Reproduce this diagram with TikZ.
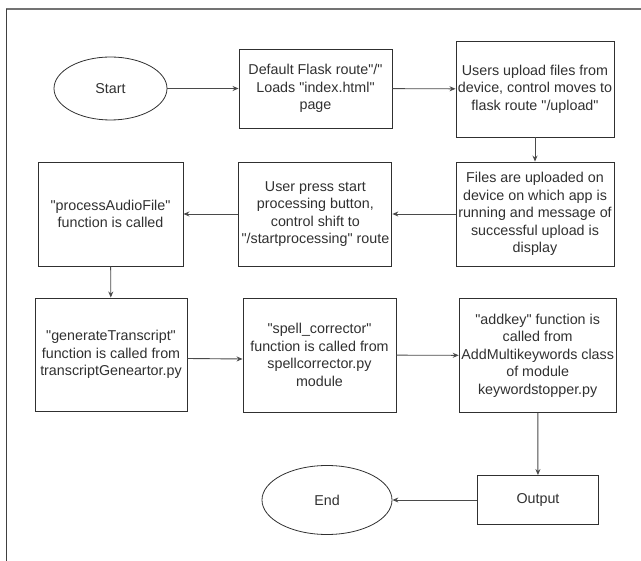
\documentclass[tikz,border=0pt]{standalone}
\usepackage{fontspec}
\setmainfont{Liberation Sans}[Ligatures=TeXOff]
\usetikzlibrary{shapes.geometric,arrows.meta}
\definecolor{ink}{HTML}{303030}
\definecolor{edge}{HTML}{4A4A4A}
\tikzset{
  every node/.style={font=\fontsize{14.3}{17.5}\selectfont, text=ink, align=center, inner sep=0pt},
  procbox/.style={draw=ink, line width=0.9pt, rectangle},
  terminal/.style={draw=ink, line width=0.8pt, ellipse},
  flow/.style={draw=edge, line width=0.9pt, -{Stealth[length=6pt,width=5pt]}},
}
\begin{document}
\begin{tikzpicture}[x=1pt,y=-1pt]
  \useasboundingbox (0,0) rectangle (641,561);
  % frame edges
  \draw[color=black!55, line width=1.8pt] (6,8.7) -- (641,8.7);
  \draw[color=black!75, line width=0.9pt] (6,8.7) -- (6,561);

  % nodes
  \node[terminal, minimum width=113pt, minimum height=63pt] (start) at (110.5,88.5) {Start};
  \node[procbox, minimum width=153pt, minimum height=79pt] (flask) at (315.5,88.5)
    {Default Flask route"/"\\Loads "index.html"\\page};
  \node[procbox, minimum width=158pt, minimum height=96pt] (upload) at (535,89)
    {Users upload files from\\device, control moves to\\flask route "/upload"};
  \node[procbox, minimum width=158pt, minimum height=104pt] (stored) at (535,214)
    {Files are uploaded on\\device on which app is\\running and message of\\successful upload is\\display};
  \node[procbox, minimum width=153pt, minimum height=104pt] (press) at (315.4,214)
    {User press start\\processing button,\\control shift to\\"/startprocessing" route};
  \node[procbox, minimum width=145pt, minimum height=104pt] (audio) at (110.5,214)
    {"processAudioFile"\\function is called};
  \node[procbox, minimum width=152pt, minimum height=113pt] (transcript) at (111,354.5)
    {"generateTranscript"\\function is called from\\transcriptGeneartor.py};
  \node[procbox, minimum width=153pt, minimum height=114pt] (spell) at (319.5,355)
    {"spell\_corrector"\\function is called from\\spellcorrector.py\\module};
  \node[procbox, minimum width=157pt, minimum height=114pt] (addkey) at (537.7,355.5)
    {"addkey" function is\\called from\\AddMultikeywords class\\of module\\keywordstopper.py};
  \node[procbox, minimum width=121pt, minimum height=49pt] (output) at (538,500) {Output};
  \node[terminal, minimum width=130pt, minimum height=69pt] (end) at (327,500) {End};

  % connectors
  \draw[flow] (start) -- (flask);
  \draw[flow] (flask) -- (upload);
  \draw[flow] (upload) -- (stored);
  \draw[flow] (stored) -- (press);
  \draw[flow] (press) -- (audio);
  \draw[flow] (audio) -- (transcript);
  \draw[flow] ([yshift=-4pt]transcript.east) -- ([yshift=-4pt]spell.west);
  \draw[flow] (spell) -- (addkey);
  \draw[flow] (addkey) -- (output);
  \draw[flow] (output) -- (end);
\end{tikzpicture}
\end{document}
